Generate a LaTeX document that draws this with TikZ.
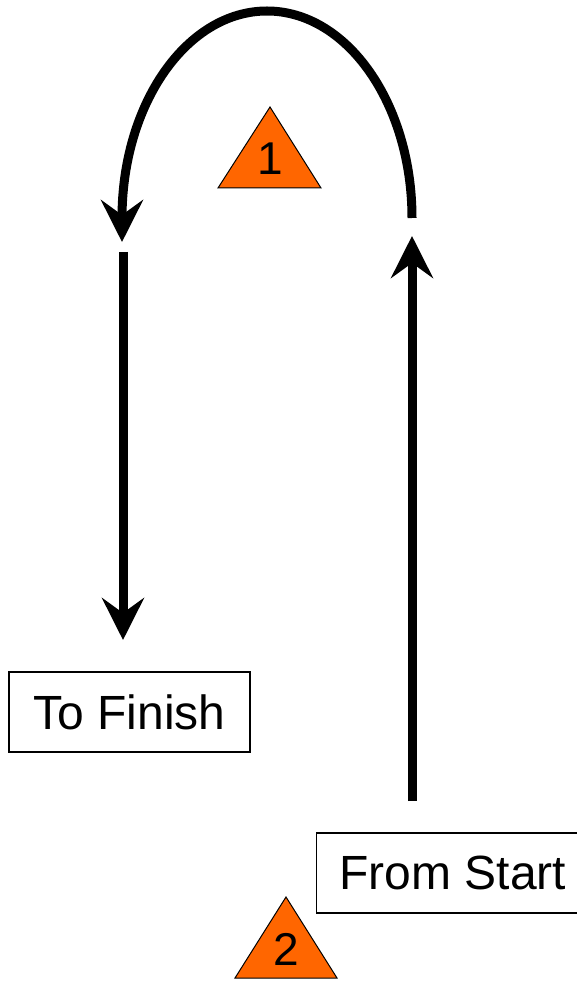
\documentclass[tikz,border=0pt]{standalone}
\usepackage{fontspec}
\setmainfont{Liberation Sans}
\usetikzlibrary{arrows.meta}
\definecolor{triorange}{HTML}{FF6600}
\begin{document}
\begin{tikzpicture}[x=1pt,y=-1pt,
  conn/.style={line width=9pt, -{Stealth[length=42pt,width=42pt,inset=15pt]}},
  labelbox/.style={draw=black, line width=1.3pt, font=\fontsize{48}{56}\selectfont,
    inner xsep=23pt, inner ysep=0pt, minimum height=80pt},
  tri/.style={fill=triorange, draw=black, line width=1pt, line join=miter},
  num/.style={font=\fontsize{46}{54}\selectfont, inner sep=0pt}
]
\useasboundingbox (0,0) rectangle (577,981);
% boxes
\node[labelbox, minimum width=241pt] (finish) at (129.5,712) {To Finish};
\node[labelbox, anchor=west] (start) at (316,873) {From Start};
% triangles
\coordinate (t1a) at (270,107);
\coordinate (t1b) at (218,188);
\coordinate (t1c) at (321,188);
\draw[tri] (t1a) -- (t1b) -- (t1c) -- cycle;
\node[num] (n1) at (270,158.5) {1};
\coordinate (t2a) at (286,897);
\coordinate (t2b) at (235,978);
\coordinate (t2c) at (337,978);
\draw[tri] (t2a) -- (t2b) -- (t2c) -- cycle;
\node[num] (n2) at (286,949.5) {2};
% connectors
\coordinate (s0) at (412,801);
\coordinate (s1) at (412,236);
\draw[conn] (s0) -- (s1);
\coordinate (a0) at (412,218);
\coordinate (a1) at (122,242);
\draw[conn] (a0) arc[start angle=0, end angle=180, x radius=145pt, y radius=207pt] -- (a1);
\coordinate (f0) at (123,252);
\coordinate (f1) at (123,640);
\draw[conn] (f0) -- (f1);
\end{tikzpicture}
\end{document}
